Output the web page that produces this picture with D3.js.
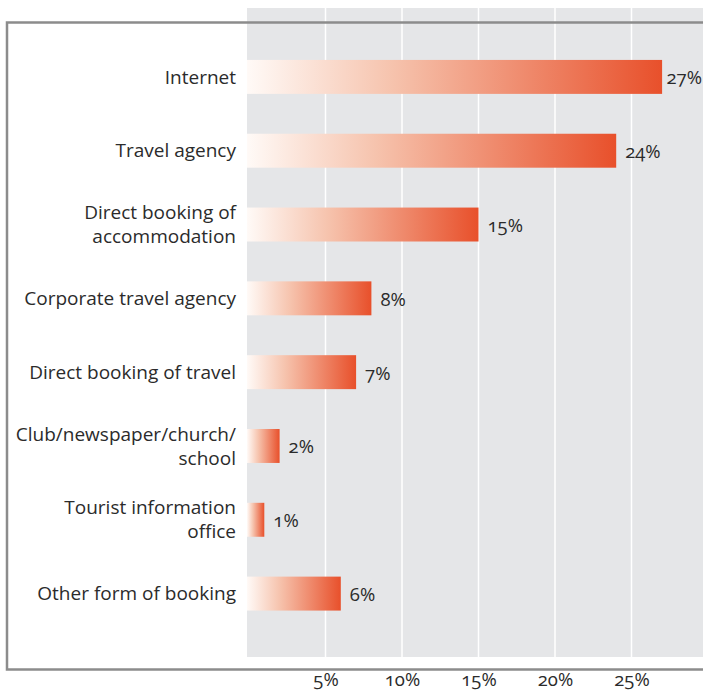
<!DOCTYPE html>
<html>
<head>
<meta charset="utf-8">
<script src="https://cdn.jsdelivr.net/npm/d3@7"></script>
<style>
  html, body { margin: 0; padding: 0; background: #fff; }
  svg { display: block; font-family: "Open Sans", "Noto Sans", sans-serif; }
  text { font-variant-numeric: oldstyle-nums; }
</style>
</head>
<body>
<svg id="chart" width="703" height="691"></svg>
<script>
// Booking channels, share of respondents (%)
const categories = [
  ["Internet"],
  ["Travel agency"],
  ["Direct booking of", "accommodation"],
  ["Corporate travel agency"],
  ["Direct booking of travel"],
  ["Club/newspaper/church/", "school"],
  ["Tourist information", "office"],
  ["Other form of booking"]
];
const values = [27, 24, 15, 8, 7, 2, 1, 6];
const tickValues = [5, 10, 15, 20, 25];
const tickLabels = ["5%", "10%", "15%", "20%", "25%"];

const svg = d3.select("#chart");
const W = 703;

const plotLeft = 247, plotTop = 8, plotBottom = 657;

const x = d3.scaleLinear().domain([0, 25]).range([249, 631.5]);
const y = d3.scaleBand()
  .domain(d3.range(values.length))
  .range([40, 630.5])
  .paddingInner(0.54)
  .paddingOuter(0.27);

// Gradient: pale at the base, full orange-red at the bar end
const defs = svg.append("defs");
const grad = defs.append("linearGradient")
  .attr("id", "barGrad")
  .attr("x1", "0").attr("x2", "1").attr("y1", "0").attr("y2", "0");
grad.append("stop").attr("offset", "0%").attr("stop-color", "#fffaf7");
grad.append("stop").attr("offset", "35%").attr("stop-color", "#f6c3ad");
grad.append("stop").attr("offset", "100%").attr("stop-color", "#e8502b");

// Plot background
svg.append("rect")
  .attr("x", plotLeft).attr("y", plotTop)
  .attr("width", W - plotLeft).attr("height", plotBottom - plotTop)
  .attr("fill", "#e5e6e8");

// Vertical grid lines
svg.append("g")
  .selectAll("line")
  .data(tickValues)
  .join("line")
  .attr("x1", d => x(d)).attr("x2", d => x(d))
  .attr("y1", plotTop).attr("y2", plotBottom)
  .attr("stroke", "#ffffff")
  .attr("stroke-width", 1.5);

// Bars
svg.append("g")
  .selectAll("rect")
  .data(values)
  .join("rect")
  .attr("x", x(0) - 2)
  .attr("y", (d, i) => y(i))
  .attr("width", d => x(d) - x(0) + 2)
  .attr("height", y.bandwidth())
  .attr("fill", "url(#barGrad)");

// Value labels, kept inside the right edge
svg.append("g")
  .selectAll("text")
  .data(values)
  .join("text")
  .attr("y", (d, i) => y(i) + y.bandwidth() / 2 + 1)
  .attr("dy", "0.35em")
  .attr("font-size", 18.5)
  .attr("fill", "#2b2b2b")
  .text(d => d + "%")
  .attr("x", function (d) {
    const w = this.getComputedTextLength();
    return Math.min(x(d) + 9, W - w - 1);
  });

// Category labels (right aligned, one text per line)
const lineH = 24;
const catG = svg.append("g");
categories.forEach((lines, i) => {
  const cy = y(i) + y.bandwidth() / 2;
  lines.forEach((ln, k) => {
    catG.append("text")
      .attr("text-anchor", "end")
      .attr("font-size", 19)
      .attr("fill", "#2b2b2b")
      .attr("x", 236)
      .attr("y", cy + (k - (lines.length - 1) / 2) * lineH)
      .attr("dy", "0.35em")
      .text(ln);
  });
});

// Frame around the chart
const frame = d3.path();
frame.moveTo(W, 22.5);
frame.lineTo(7, 22.5);
frame.lineTo(7, 669.5);
frame.lineTo(W, 669.5);
svg.append("path")
  .attr("d", frame.toString())
  .attr("fill", "none")
  .attr("stroke", "#8c8c8c")
  .attr("stroke-width", 2.5);

// Bottom axis labels
const axis = d3.axisBottom(x)
  .tickValues(tickValues)
  .tickFormat((d, i) => tickLabels[i])
  .tickSize(0)
  .tickPadding(0);
const axG = svg.append("g")
  .attr("transform", "translate(0,673)")
  .call(axis);
axG.select(".domain").remove();
axG.selectAll("text")
  .attr("font-size", 18.5)
  .attr("fill", "#2b2b2b")
  .attr("font-family", "\"Open Sans\", \"Noto Sans\", sans-serif");
</script>
</body>
</html>
